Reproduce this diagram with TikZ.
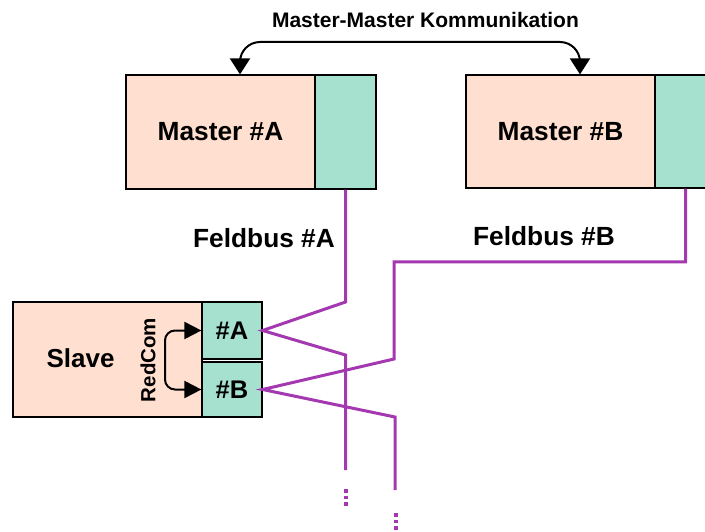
\documentclass[tikz,border=0pt]{standalone}
\usepackage{fontspec}
\setmainfont{Liberation Sans}
\usetikzlibrary{arrows.meta}
\definecolor{peach}{RGB}{255,223,208}
\definecolor{portgreen}{RGB}{166,225,208}
\definecolor{busviolet}{RGB}{164,56,176}
\tikzset{
  dev/.style={draw=black,line width=1.2pt,fill=peach,minimum width=189pt,inner sep=0pt,font=\fontsize{26.3}{30}\selectfont\bfseries},
  port/.style={draw=black,line width=1.2pt,fill=portgreen,inner sep=0pt,font=\fontsize{25.5}{30}\selectfont\bfseries},
  bus/.style={busviolet,line width=3pt,line join=miter},
  busdots/.style={busviolet,line width=3.5pt,dash pattern=on 3.5pt off 3pt},
  buslabel/.style={font=\fontsize{26.3}{30}\selectfont\bfseries},
}
\begin{document}
\begin{tikzpicture}[x=1pt,y=-1pt]
\useasboundingbox (0,0) rectangle (705,532);
% masters
\node[dev,minimum height=114pt] (mA) at (220.5,132) {Master \#A};
\node[port,minimum width=61pt,minimum height=114pt] (mAp) at (345.5,132) {};
\node[dev,minimum height=113pt] (mB) at (560.5,131.5) {Master \#B};
\node[port,minimum width=61pt,minimum height=113pt] (mBp) at (685.5,131.5) {};
\node[font=\fontsize{21}{25}\selectfont\bfseries] (mmk) at (425.5,20) {Master-Master Kommunikation};
\draw[line width=2pt,rounded corners=20pt,{Triangle[length=16pt,width=20pt]}-{Triangle[length=16pt,width=20pt]}]
  ([xshift=19.5pt]mA.north) |- (425,42) -| ([xshift=19.5pt]mB.north);

% slave
\node[dev,minimum height=115pt] (sl) at (107.5,359.5) {};
\node[font=\fontsize{26}{30}\selectfont\bfseries] (slv) at (80.5,358) {Slave};
\node[port,minimum width=60pt,minimum height=57pt] (pA) at (232,330.5) {\#A};
\node[port,minimum width=60pt,minimum height=55pt] (pB) at (232,389.5) {\#B};
\node[rotate=90,font=\fontsize{20.5}{24}\selectfont\bfseries] (rc) at (148,360) {RedCom};
\draw[line width=2pt,rounded corners=10pt,{Triangle[length=17pt,width=17pt]}-{Triangle[length=17pt,width=17pt]}]
  (pA.west) -| (165,360) |- (pB.west);

% feldbus
\node[buslabel] (fbA) at (264,238) {Feldbus \#A};
\node[buslabel] (fbB) at (544,236) {Feldbus \#B};
\coordinate (endA) at (345.5,470);
\coordinate (endB) at (395,490);
\draw[bus] (mAp.south) -- (345.5,302) -- (pA.east) -- (345.5,355) -- (endA);
\draw[bus] (mBp.south) -- (685.5,262) -- (394,262) -- (394,359) -- (pB.east) -- (395,417) -- (endB);
\draw[busdots] (346,489) -- (346,508);
\draw[busdots] (396,513) -- (396,532);

\end{tikzpicture}
\end{document}
